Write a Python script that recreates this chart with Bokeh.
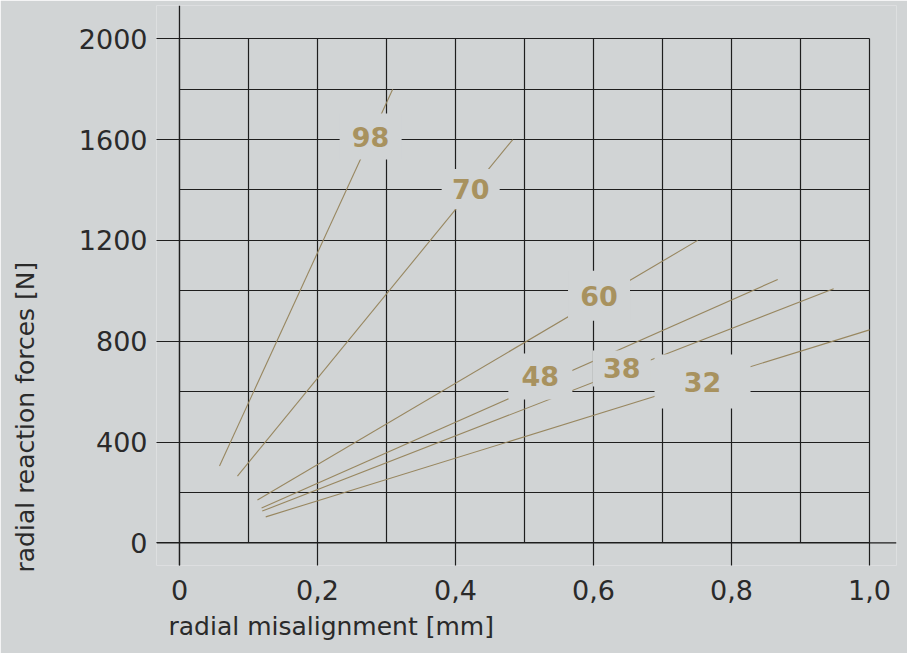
from bokeh.plotting import figure
from bokeh.models import Range1d, FixedTicker, Span, ColumnDataSource, Title
from bokeh.core.properties import value
from bokeh.embed import file_html
from bokeh.resources import INLINE

# ---- data ----
SERIES = ["98", "70", "60", "48", "38", "32"]
X_START = [0.058, 0.084, 0.113, 0.119, 0.120, 0.125]
Y_START = [305, 265, 170, 138, 126, 103]
X_END = [0.309, 0.483, 0.751, 0.867, 0.948, 1.0]
Y_END = [1800, 1600, 1200, 1045, 1008, 845]

LABEL_X = [0.277, 0.422, 0.608, 0.523, 0.641, 0.758]
LABEL_Y = [1612, 1404, 980, 660, 692, 640]

X_TICKS = [0, 0.2, 0.4, 0.6, 0.8, 1.0]
X_TICK_LABELS = ["0", "0,2", "0,4", "0,6", "0,8", "1,0"]
Y_TICKS = [0, 400, 800, 1200, 1600, 2000]
Y_TICK_LABELS = ["0", "400", "800", "1200", "1600", "2000"]
X_GRID = [0, 0.1, 0.2, 0.3, 0.4, 0.5, 0.6, 0.7, 0.8, 0.9, 1.0]
Y_GRID = [0, 200, 400, 600, 800, 1000, 1200, 1400, 1600, 1800, 2000]

X_TITLE = "radial misalignment [mm]"
Y_TITLE = "radial reaction forces [N]"

# ---- style ----
BG = "#d1d4d5"
GRID_C = "#1e1e1e"
LINE_C = "#988760"
LABEL_C = "#a8925f"
TEXT_C = "#2a2a2a"
FONT = "DejaVu Sans"
HALO_W = [62, 58, 62, 64, 58, 96]
HALO_H = [46, 40, 50, 46, 36, 54]

p = figure(width=907, height=653, output_backend="svg", toolbar_location=None,
           x_range=Range1d(-0.0333, 1.0391), y_range=Range1d(-90, 2132),
           min_border_left=156, min_border_right=11, min_border_top=5,
           min_border_bottom=88)
p.background_fill_color = BG
p.border_fill_color = BG
p.outline_line_color = None

# grid
p.xgrid.ticker = FixedTicker(ticks=X_GRID)
p.ygrid.ticker = FixedTicker(ticks=Y_GRID)
p.xgrid.bounds = (X_GRID[0], X_GRID[-1])
p.xgrid.cross_bounds = (Y_GRID[0], Y_GRID[-1])
p.ygrid.bounds = (Y_GRID[0], Y_GRID[-1])
p.ygrid.cross_bounds = (X_GRID[0], X_GRID[-1])
for g in (p.xgrid, p.ygrid):
    g.grid_line_color = GRID_C
    g.grid_line_width = 1.2
    g.grid_line_alpha = 1.0

# axes lines through the origin
p.add_layout(Span(location=0, dimension="width", line_color=GRID_C, line_width=1.3))
p.add_layout(Span(location=0, dimension="height", line_color=GRID_C, line_width=1.3))

# axes
p.xaxis.ticker = FixedTicker(ticks=X_TICKS)
p.yaxis.ticker = FixedTicker(ticks=Y_TICKS)
p.xaxis.major_label_overrides = {t: l for t, l in zip(X_TICKS, X_TICK_LABELS)}
p.yaxis.major_label_overrides = {t: l for t, l in zip(Y_TICKS, Y_TICK_LABELS)}
for ax in (p.xaxis, p.yaxis):
    ax.axis_line_color = None
    ax.major_tick_in = 23
    ax.major_tick_out = 0
    ax.major_tick_line_color = GRID_C
    ax.major_tick_line_width = 1.2
    ax.minor_tick_line_color = None
    ax.major_label_text_font = FONT
    ax.major_label_text_font_size = "27px"
    ax.major_label_text_color = TEXT_C
p.xaxis.major_label_standoff = 14
p.yaxis.major_label_standoff = 9

# axis titles (left-aligned like the reference)
p.add_layout(Title(text=X_TITLE, align="left", offset=12, standoff=14,
                   text_font=FONT, text_font_size="25px", text_font_style="normal",
                   text_color=TEXT_C), "below")
p.add_layout(Title(text=Y_TITLE + "\n ", align="left", offset=-7, standoff=14,
                   text_font=FONT, text_font_size="25px", text_font_style="normal",
                   text_color=TEXT_C), "left")

# series lines
src = ColumnDataSource(dict(xs=[[a, b] for a, b in zip(X_START, X_END)],
                            ys=[[a, b] for a, b in zip(Y_START, Y_END)]))
p.multi_line("xs", "ys", source=src, line_color=LINE_C, line_width=1.1)

# label halos and labels
lsrc = ColumnDataSource(dict(x=LABEL_X, y=LABEL_Y, t=SERIES, w=HALO_W, h=HALO_H))
p.rect("x", "y", width="w", height="h", width_units="screen", height_units="screen",
       source=lsrc, fill_color=BG, line_color=None)
p.text("x", "y", text="t", source=lsrc, text_align="center", text_baseline="middle",
       text_font=value(FONT), text_font_style="bold", text_font_size="27px",
       text_color=LABEL_C)

open("out.html", "w").write(file_html(p, INLINE))
